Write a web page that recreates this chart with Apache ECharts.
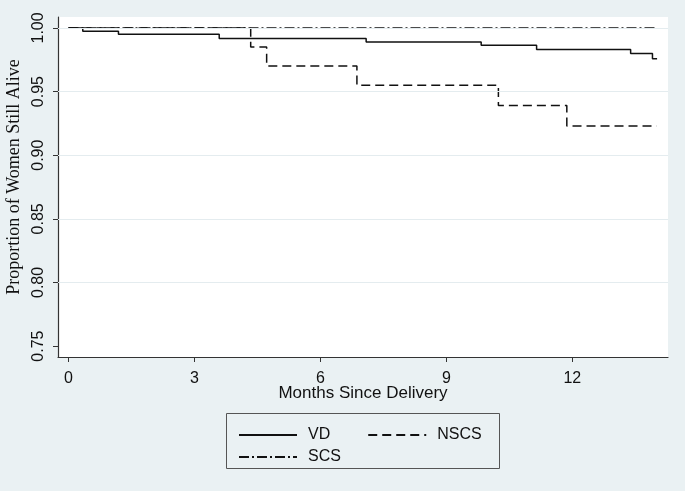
<!DOCTYPE html>
<html>
<head>
<meta charset="utf-8">
<script src="https://cdn.jsdelivr.net/npm/echarts@6/dist/echarts.min.js"></script>
<style>
html,body{margin:0;padding:0;background:#eaf1f3;}
#chart{width:685px;height:491px;}
</style>
</head>
<body>
<div id="chart"></div>
<script>
// Kaplan-Meier step points [months, proportion]
var vdTimes   = [0, 0.34, 1.19, 3.59, 7.09, 9.83, 11.15, 13.39, 13.91, 14.02];
var vdValues  = [1.000, 0.9974, 0.9950, 0.9917, 0.9890, 0.9864, 0.9830, 0.9799, 0.9758, 0.9758];
var nscsTimes  = [0, 4.34, 4.72, 6.87, 10.24, 11.87, 14.01];
var nscsValues = [1.000, 0.985, 0.970, 0.955, 0.939, 0.923, 0.923];
var scsTimes  = [0, 14.0];
var scsValues = [1.000, 1.000];
var xTicks = [0, 3, 6, 9, 12];
var yTicks = [0.75, 0.80, 0.85, 0.90, 0.95, 1.00];
var yGrid  = [0.80, 0.85, 0.90, 0.95, 1.00];
var seriesNames = ['VD', 'NSCS', 'SCS'];

function pairs(t, v) { return t.map(function (x, i) { return [x, v[i]]; }); }

var chart = echarts.init(document.getElementById('chart'), null, {renderer: 'canvas'});
var lineBase = {type: 'line', step: 'end', symbol: 'none', showSymbol: false, animation: false, silent: true};
var legendText = {fontFamily: 'Liberation Sans', fontSize: 16, color: '#111', padding: [0, 0, 0, 6]};

var option = {
  backgroundColor: '#eaf1f3',
  animation: false,
  grid: {left: 58, top: 17, right: 17, bottom: 134, show: true, backgroundColor: '#ffffff', borderWidth: 0,
    containLabel: false, outerBoundsMode: 'none'},
  xAxis: {
    type: 'value', min: -0.25, max: 14.28,
    name: 'Months Since Delivery', nameLocation: 'middle', nameGap: 28, nameMoveOverlap: false,
    nameTextStyle: {fontFamily: 'Liberation Sans', fontSize: 17, color: '#111'},
    axisLine: {show: true, onZero: false, lineStyle: {color: '#333', width: 1.2}},
    axisTick: {show: true, customValues: xTicks, length: 5, lineStyle: {color: '#333'}},
    axisLabel: {customValues: xTicks, margin: 14, fontFamily: 'Liberation Sans', fontSize: 16, color: '#111'},
    splitLine: {show: false}
  },
  yAxis: {
    type: 'value', min: 0.7414, max: 1.0086,
    name: 'Proportion of Women Still Alive', nameLocation: 'middle', nameGap: 35,
    nameTextStyle: {fontFamily: 'Liberation Serif', fontSize: 18, color: '#111', padding: [0, 0, 0, 20]},
    axisLine: {show: true, onZero: false, lineStyle: {color: '#333', width: 1.2}},
    axisTick: {show: true, customValues: yTicks, length: 5, lineStyle: {color: '#333'}},
    axisLabel: {customValues: yTicks, rotate: 90, margin: 11, fontFamily: 'Liberation Sans', fontSize: 16, color: '#111',
      formatter: function (v) { return v.toFixed(2); }},
    splitLine: {show: false}
  },
  legend: [
    {data: [seriesNames[0], seriesNames[1]], left: 233, top: 422, itemWidth: 58, itemHeight: 14, itemGap: 37,
      itemStyle: {opacity: 0}, textStyle: legendText},
    {data: [seriesNames[2]], left: 233, top: 444, itemWidth: 58, itemHeight: 14,
      itemStyle: {opacity: 0}, textStyle: legendText}
  ],
  graphic: [
    {type: 'rect', left: 226, top: 413, shape: {width: 273, height: 55}, silent: true,
      style: {fill: 'transparent', stroke: '#555', lineWidth: 1}, z: -1}
  ],
  series: [
    Object.assign({}, lineBase, {name: seriesNames[0], data: pairs(vdTimes, vdValues),
      lineStyle: {color: '#111', width: 1.5, type: 'solid'}, itemStyle: {color: '#111'},
      markLine: {silent: true, symbol: 'none', label: {show: false}, animation: false,
        lineStyle: {color: '#e4ecef', width: 1.2, type: 'solid'},
        data: yGrid.map(function (y) { return {yAxis: y}; })}, z: 3}),
    Object.assign({}, lineBase, {name: seriesNames[1], data: pairs(nscsTimes, nscsValues),
      lineStyle: {color: '#111', width: 1.5, type: [9, 5]}, itemStyle: {color: '#111'}, z: 3}),
    Object.assign({}, lineBase, {name: seriesNames[2], data: pairs(scsTimes, scsValues),
      lineStyle: {color: '#111', width: 1.5, type: [10, 3, 2, 3]}, itemStyle: {color: '#111'}, z: 3})
  ]
};
chart.setOption(option);
</script>
</body>
</html>
